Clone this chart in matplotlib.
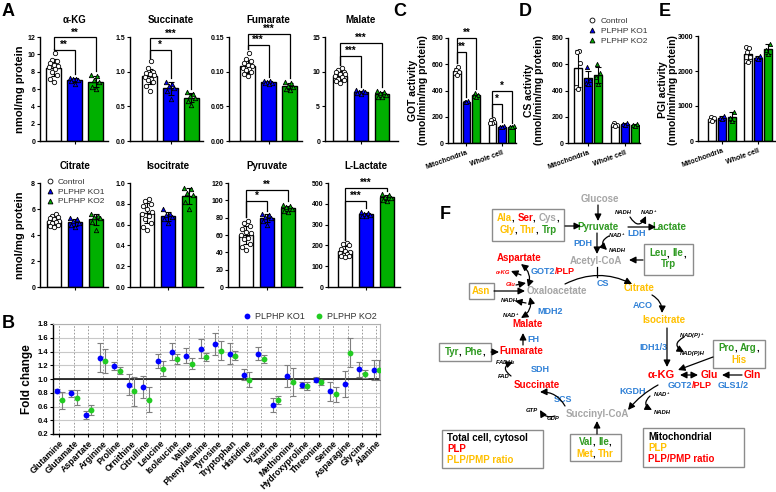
import numpy as np
import matplotlib
matplotlib.use('Agg')
import matplotlib.pyplot as plt
from matplotlib.lines import Line2D
from matplotlib.patches import Rectangle

plt.rcParams['font.family'] = ['Liberation Sans', 'DejaVu Sans']
plt.rcParams['font.weight'] = 'bold'
plt.rcParams['mathtext.fontset'] = 'custom'
plt.rcParams['mathtext.rm'] = 'Liberation Sans:bold'
plt.rcParams['mathtext.it'] = 'Liberation Sans:italic:bold'
plt.rcParams['mathtext.bf'] = 'Liberation Sans:bold'
plt.rcParams['axes.linewidth'] = 1.0

W, H = 776, 492
fig = plt.figure(figsize=(W / 100, H / 100), dpi=100)

BLUE = '#0000ff'
GREEN = '#00b000'
GROUP_COLORS = ['white', BLUE, GREEN]
GROUP_MARKERS = ['o', '^', '^']
GROUP_LABELS = ['Control', 'PLPHP KO1', 'PLPHP KO2']

# ---------------- Panel A data (nmol/mg protein) ----------------
akg_ctrl = [10.2, 9.4, 9.2, 9.0, 8.8, 8.6, 8.5, 8.3, 8.0, 7.6, 7.2, 6.8]
akg_ko1 = [7.3, 7.2, 7.1, 7.0, 6.9, 6.6]
akg_ko2 = [7.6, 7.5, 7.0, 6.8, 6.2, 6.0]
succ_ctrl = [1.15, 1.05, 1.0, 0.98, 0.96, 0.95, 0.93, 0.9, 0.88, 0.85, 0.8, 0.72]
succ_ko1 = [0.85, 0.82, 0.8, 0.77, 0.72, 0.6]
succ_ko2 = [0.7, 0.68, 0.65, 0.62, 0.58, 0.52]
fum_ctrl = [0.127, 0.118, 0.115, 0.113, 0.11, 0.108, 0.106, 0.104, 0.102, 0.1, 0.097, 0.094]
fum_ko1 = [0.087, 0.086, 0.085, 0.084, 0.083, 0.082]
fum_ko2 = [0.085, 0.084, 0.08, 0.078, 0.075, 0.073]
mal_ctrl = [10.5, 10.2, 10.0, 9.9, 9.7, 9.6, 9.4, 9.2, 9.0, 8.8, 8.6, 8.4]
mal_ko1 = [7.3, 7.2, 7.1, 7.0, 6.9, 6.8]
mal_ko2 = [7.2, 7.0, 6.9, 6.7, 6.4, 6.3]
cit_ctrl = [5.6, 5.5, 5.4, 5.3, 5.2, 5.1, 5.0, 5.0, 4.9, 4.8, 4.7, 4.6]
cit_ko1 = [5.3, 5.2, 5.1, 4.9, 4.8, 4.6]
cit_ko2 = [5.6, 5.5, 5.4, 5.3, 5.0, 4.4]
iso_ctrl = [0.85, 0.83, 0.8, 0.78, 0.75, 0.72, 0.7, 0.68, 0.65, 0.62, 0.58, 0.55]
iso_ko1 = [0.75, 0.7, 0.69, 0.67, 0.65, 0.62]
iso_ko2 = [0.95, 0.94, 0.9, 0.88, 0.82, 0.75]
pyr_ctrl = [76, 74, 70, 67, 64, 62, 60, 57, 55, 50, 46, 43]
pyr_ko1 = [84, 83, 81, 80, 76, 72]
pyr_ko2 = [95, 93, 92, 90, 88, 86]
lac_ctrl = [210, 205, 200, 185, 175, 170, 165, 160, 155, 150, 148, 145]
lac_ko1 = [360, 355, 350, 345, 342, 340]
lac_ko2 = [445, 440, 435, 430, 420, 415]

a_titles = ['α-KG', 'Succinate', 'Fumarate', 'Malate',
            'Citrate', 'Isocitrate', 'Pyruvate', 'L-Lactate']
a_ymax = [12, 1.5, 0.15, 15, 8, 1.0, 120, 500]
a_ystep = [2, 0.5, 0.05, 5, 2, 0.2, 20, 100]
a_yfmt = ['%d', '%.1f', '%.2f', '%d', '%d', '%.1f', '%d', '%d']
# significance brackets: (height to KO1, label, height to KO2, label)
a_sig = [(10.5, '**', 11.95, '**'), (1.31, '*', 1.48, '***'),
         (0.139, '***', 0.154, '***'), (12.3, '***', 14.1, '***'),
         None, None, (99, '*', 112, '**'), (413, '***', 476, '***')]

# ---------------- Panel B data (fold change) ----------------
amino_acids = ['Glutamine', 'Glutamate', 'Aspartate', 'Arginine', 'Proline',
               'Ornithine', 'Citrulline', 'Leucine', 'Isoleucine', 'Valine',
               'Phenylalanine', 'Tyrosine', 'Tryptophan', 'Histidine', 'Lysine',
               'Taurine', 'Methionine', 'Hydroxyproline', 'Threonine', 'Serine',
               'Asparagine', 'Glycine', 'Alanine']
ko1_fc = [0.83, 0.79, 0.48, 1.31, 1.19, 0.92, 0.89, 1.26, 1.40, 1.34, 1.44, 1.51,
          1.37, 1.06, 1.37, 0.62, 1.05, 0.91, 0.99, 0.82, 0.93, 1.14, 1.13]
ko1_err = [0.02, 0.05, 0.06, 0.21, 0.06, 0.15, 0.16, 0.10, 0.12, 0.11, 0.14, 0.16,
           0.15, 0.08, 0.10, 0.10, 0.16, 0.04, 0.04, 0.14, 0.19, 0.11, 0.15]
ko2_fc = [0.69, 0.73, 0.55, 1.26, 1.12, 0.82, 0.70, 1.15, 1.29, 1.22, 1.32, 1.41,
          1.34, 0.99, 1.29, 0.69, 0.96, 0.90, 0.95, 0.78, 1.38, 1.07, 1.13]
ko2_err = [0.12, 0.11, 0.07, 0.17, 0.05, 0.21, 0.18, 0.11, 0.07, 0.08, 0.06, 0.14,
           0.07, 0.11, 0.06, 0.06, 0.20, 0.06, 0.03, 0.11, 0.21, 0.06, 0.15]

# ---------------- Panels C, D, E data ----------------
fractions = ['Mitochondria', 'Whole cell']
got_ctrl = [[580, 560, 540, 530, 520], [180, 175, 160, 150, 150]]
got_ko1 = [[320, 315, 310], [130, 125, 120]]
got_ko2 = [[380, 365, 355, 350], [128, 125, 122]]
cs_ctrl = [[700, 690, 610, 430, 410], [150, 140, 135, 130]]
cs_ko1 = [[580, 480, 460, 450], [155, 148, 140]]
cs_ko2 = [[600, 530, 500, 450], [145, 135, 128]]
pgi_ctrl = [[700, 650, 600, 560], [2700, 2650, 2550, 2400, 2300, 2250]]
pgi_ko1 = [[720, 650, 620], [2420, 2380, 2350]]
pgi_ko2 = [[830, 650, 580], [2780, 2600, 2500]]


def px_axes(left, top, right, bottom):
    return fig.add_axes([left / W, 1 - bottom / H, (right - left) / W, (bottom - top) / H])


def swarm(vals, spread):
    vals = np.asarray(vals, dtype=float)
    pattern = np.array([0.0, -1.0, 1.0, -0.5, 0.5, -1.4, 1.4])
    offs = np.zeros(len(vals))
    for rank, idx in enumerate(np.argsort(vals)):
        offs[idx] = pattern[rank % len(pattern)] * spread
    return offs


def draw_group(ax, x, pts, k, width, msize=10):
    m = np.mean(pts)
    s = np.std(pts, ddof=1)
    ax.bar(x, m, width, color=GROUP_COLORS[k], edgecolor='black', linewidth=1.0, zorder=2)
    ax.errorbar(x, m, yerr=s, fmt='none', ecolor='black', elinewidth=0.8,
                capsize=2, capthick=0.8, zorder=3)
    fc = 'white' if k == 0 else GROUP_COLORS[k]
    ax.scatter(x + swarm(pts, width * 0.25), pts, s=msize, marker=GROUP_MARKERS[k],
               facecolor=fc, edgecolor='black', linewidth=0.6, zorder=4, clip_on=False)
    return max(max(pts), m + s)


def bracket(ax, x0, x1, y, y0, y1, label, fs=7):
    ax.plot([x0, x0, x1, x1], [y0, y, y, y1], color='black', lw=0.9,
            clip_on=False, zorder=5, solid_joinstyle='miter')
    ax.text((x0 + x1) / 2, y, label, ha='center', va='bottom', fontsize=fs,
            fontweight='bold', clip_on=False)


def style(ax, fs=5):
    for sp in ['top', 'right']:
        ax.spines[sp].set_visible(False)
    ax.tick_params(labelsize=fs, width=0.8, length=2.5, pad=1)


def legend3(ax, loc, anchor):
    handles = [Line2D([], [], ls='none', marker=GROUP_MARKERS[k], markersize=3.5,
                      markerfacecolor=('white' if k == 0 else GROUP_COLORS[k]),
                      markeredgecolor='black', markeredgewidth=0.6)
               for k in range(3)]
    leg = ax.legend(handles, GROUP_LABELS, loc=loc, bbox_to_anchor=anchor,
                    frameon=False, prop={'size': 6, 'weight': 'normal'},
                    handletextpad=0.5, labelspacing=0.25, borderaxespad=0,
                    borderpad=0, handlelength=1.0)
    for tx in leg.get_texts():
        tx.set_color('#333333')


# ---------------- Panel A ----------------
a_groups = [(akg_ctrl, akg_ko1, akg_ko2), (succ_ctrl, succ_ko1, succ_ko2),
            (fum_ctrl, fum_ko1, fum_ko2), (mal_ctrl, mal_ko1, mal_ko2),
            (cit_ctrl, cit_ko1, cit_ko2), (iso_ctrl, iso_ko1, iso_ko2),
            (pyr_ctrl, pyr_ko1, pyr_ko2), (lac_ctrl, lac_ko1, lac_ko2)]
# (axis left, first bar centre, axis right) in pixels
a_pos = [(40, 53.5, 108), (130, 149.5, 203), (229, 247.5, 302), (325, 340, 398),
         (40, 54, 108), (130, 147, 203), (228, 246, 302), (328, 345, 400)]
a_rows = [(37, 141), (183, 287)]
UNIT = 21.0
for i in range(8):
    left, c0, right = a_pos[i]
    top, bot = a_rows[i // 4]
    ax = px_axes(left, top, right, bot)
    tops = []
    for k in range(3):
        tops.append(draw_group(ax, k, a_groups[i][k], k, 0.67))
    ymax = a_ymax[i]
    ax.set_ylim(0, ymax)
    ax.set_xlim((left - c0) / UNIT, (right - c0) / UNIT)
    yt = np.arange(0, ymax + a_ystep[i] / 2, a_ystep[i])
    ax.set_yticks(yt)
    ax.set_yticklabels([a_yfmt[i] % v for v in yt])
    ax.set_xticks([1])
    ax.set_xticklabels([''])
    style(ax)
    cx = (c0 + UNIT - left) / (right - left)
    ax.text(cx, 1.135, a_titles[i], transform=ax.transAxes, fontsize=7,
            fontweight='bold', ha='center', va='baseline')
    sig = a_sig[i]
    if sig:
        pad = 0.035 * ymax
        bracket(ax, 0, 1, sig[0], tops[0] + pad, tops[1] + pad, sig[1])
        bracket(ax, 0, 2, sig[2], tops[0] + pad, tops[2] + pad, sig[3])
    if i == 4:
        legend3(ax, 'upper left', (0.08, 1.05))

# ---------------- Panel B ----------------
axb = px_axes(53, 324, 380, 434)
xb = np.arange(len(amino_acids))
off = 0.19
axb.errorbar(xb - off, ko1_fc, yerr=ko1_err, fmt='none', ecolor='#7f7f7f',
             elinewidth=0.8, capsize=2, capthick=0.8, zorder=3)
axb.errorbar(xb + off, ko2_fc, yerr=ko2_err, fmt='none', ecolor='#7f7f7f',
             elinewidth=0.8, capsize=2, capthick=0.8, zorder=3)
axb.plot(xb - off, ko1_fc, ls='none', marker='o', markersize=4.2, color=BLUE,
         markeredgewidth=0, zorder=4, label='PLPHP KO1')
axb.plot(xb + off, ko2_fc, ls='none', marker='o', markersize=4.2, color='#22cc22',
         markeredgewidth=0, zorder=4, label='PLPHP KO2')
axb.axhline(1.0, color='black', lw=1.1, zorder=2)
axb.set_ylim(0.2, 1.8)
axb.set_yticks(np.arange(0.2, 1.81, 0.2))
axb.set_yticklabels(['%.1f' % v for v in np.arange(0.2, 1.81, 0.2)])
axb.set_xlim((53 - 59.5) / 14.4, (380 - 59.5) / 14.4)
axb.set_xticks(xb)
axb.set_xticklabels(amino_acids, rotation=45, ha='right', va='top',
                    rotation_mode='anchor', fontsize=6.3)
axb.yaxis.grid(True, color='#c8c8c8', lw=0.8)
axb.xaxis.grid(True, color='#8c8c8c', lw=0.6, ls=(0, (2, 2)))
axb.set_axisbelow(True)
for sp in ['top', 'right']:
    axb.spines[sp].set_color('#b0b0b0')
    axb.spines[sp].set_linewidth(0.8)
axb.tick_params(axis='y', labelsize=5.5, width=0.8, length=2.5, pad=1)
axb.tick_params(axis='x', width=0.8, length=2.5, pad=1)
axb.set_ylabel('Fold change', fontsize=8.5, fontweight='bold', labelpad=3)
lb = axb.legend(loc='lower right', bbox_to_anchor=(1.0, 0.99), ncol=2, frameon=False,
                prop={'size': 6.5, 'weight': 'normal'}, handletextpad=0.4,
                columnspacing=1.0, borderaxespad=0, handlelength=1.0)
for tx in lb.get_texts():
    tx.set_color('#333333')

# ---------------- Panels C, D, E ----------------
cde = [('GOT activity', got_ctrl, got_ko1, got_ko2, (448, 38, 516, 143), 466.5, 35.5, 800, 200),
       ('CS activity', cs_ctrl, cs_ko1, cs_ko2, (568, 38, 640, 143), 588, 37, 800, 200),
       ('PGI activity', pgi_ctrl, pgi_ko1, pgi_ko2, (698, 36, 776, 141), 722, 36, 3000, 1000)]
bar_off = 0.27
bar_w = 0.22
for j, (lab, c_, k1, k2, bx, cx, unit, ymax, step) in enumerate(cde):
    ax = px_axes(*bx)
    left, top, right, bot = bx
    tops = {}
    for g in range(2):
        for k, data in enumerate([c_, k1, k2]):
            tops[(g, k)] = draw_group(ax, g + (k - 1) * bar_off, data[g], k, bar_w, msize=9)
    ax.set_ylim(0, ymax)
    ax.set_xlim((left - cx) / unit, (right - cx) / unit)
    ax.set_yticks(np.arange(0, ymax + 1, step))
    ax.set_xticks([0, 1])
    ax.set_xticklabels(fractions, rotation=20, ha='right', va='top',
                       rotation_mode='anchor', fontsize=6.3)
    style(ax)
    ax.tick_params(axis='x', pad=2)
    if j == 0:
        pad = 0.035 * ymax
        bracket(ax, -bar_off, 0, 693, tops[(0, 0)] + pad, tops[(0, 1)] + pad, '**')
        bracket(ax, -bar_off, bar_off, 800, tops[(0, 0)] + pad, tops[(0, 2)] + pad, '**')
        bracket(ax, 1 - bar_off, 1, 296, tops[(1, 0)] + pad, tops[(1, 1)] + pad, '*')
        bracket(ax, 1 - bar_off, 1 + bar_off, 396, tops[(1, 0)] + pad, tops[(1, 2)] + pad, '*')
    if j == 1:
        legend3(ax, 'upper left', (0.28, 1.2))

# ---------------- overlay: labels and panel F ----------------
ov = fig.add_axes([0, 0, 1, 1])
ov.set_xlim(0, W)
ov.set_ylim(H, 0)
ov.axis('off')
ov.patch.set_alpha(0)

for letter, (x, y) in {'A': (2, 16), 'B': (2, 328), 'C': (393, 16), 'D': (519, 16),
                       'E': (659, 16), 'F': (440, 219)}.items():
    ov.text(x, y, letter, fontsize=13, fontweight='bold', ha='left', va='baseline')

ov.text(20, 89, 'nmol/mg protein', rotation=90, ha='center', va='center', fontsize=8)
ov.text(20, 235, 'nmol/mg protein', rotation=90, ha='center', va='center', fontsize=8)
for x, lab in [(418, 'GOT activity'), (534, 'CS activity'), (668, 'PGI activity')]:
    ov.text(x, 90, lab + '\n(nmol/min/mg protein)', rotation=90, ha='center',
            va='center', fontsize=7.5, linespacing=1.1)

ORANGE = '#ffc000'
RED = '#ff0000'
FGREEN = '#2f9a22'
EBLUE = '#2f80d6'
GRAY = '#a6a6a6'
renderer = fig.canvas.get_renderer()


def seg_text(x, y, segs, size=7, ha='center', style_='normal'):
    texts = [ov.text(0, y, s, color=c, fontsize=size, fontweight='bold', ha='left',
                     va='center', fontstyle=style_) for s, c in segs]
    widths = [tx.get_window_extent(renderer).width for tx in texts]
    start = x - sum(widths) / 2 if ha == 'center' else x
    for tx, w in zip(texts, widths):
        tx.set_x(start)
        start += w


def t(x, y, s, c='black', size=7, **kw):
    ov.text(x, y, s, color=c, fontsize=size, fontweight='bold', ha=kw.pop('ha', 'center'),
            va='center', **kw)


def small(x, y, s, c='black'):
    ov.text(x, y, s, color=c, fontsize=4.2, fontweight='bold', fontstyle='italic',
            ha='center', va='center')


def box(x0, y0, x1, y1):
    ov.add_patch(Rectangle((x0, y0), x1 - x0, y1 - y0, facecolor='white',
                           edgecolor='#8c8c8c', lw=1.0, zorder=1))


def arr(p0, p1, rad=0.0, style='-|>', lw=0.9):
    ov.annotate('', xy=p1, xytext=p0,
                arrowprops=dict(arrowstyle=style + ',head_length=0.5,head_width=0.25',
                                connectionstyle='arc3,rad=%s' % rad, color='black',
                                lw=lw, shrinkA=0, shrinkB=0, mutation_scale=8))


# boxes
box(492, 209, 564, 241)
box(644, 244, 693, 275)
box(469, 283, 494, 299)
box(439, 343, 491, 361)
box(713, 340, 765, 368)
box(570, 434, 621, 461)
box(442, 430, 543, 468)
box(643, 428, 744, 467)

seg_text(528, 218, [('Ala', ORANGE), (', ', 'black'), ('Ser', RED), (', ', 'black'),
                    ('Cys', GRAY), (',', 'black')])
seg_text(528, 230, [('Gly', ORANGE), (', ', 'black'), ('Thr', ORANGE), (', ', 'black'),
                    ('Trp', FGREEN)])
seg_text(668, 253, [('Leu', FGREEN), (', ', 'black'), ('Ile', FGREEN), (',', 'black')])
t(668, 264, 'Trp', FGREEN)
t(481, 291, 'Asn', ORANGE)
seg_text(465, 352, [('Tyr', FGREEN), (', ', 'black'), ('Phe', FGREEN), (',', 'black')])
seg_text(739, 348, [('Pro', FGREEN), (', ', 'black'), ('Arg', FGREEN), (',', 'black')])
t(739, 360, 'His', ORANGE)
seg_text(595, 442, [('Val', FGREEN), (', ', 'black'), ('Ile', FGREEN), (',', 'black')])
seg_text(595, 454, [('Met', ORANGE), (', ', 'black'), ('Thr', ORANGE)])
t(447, 438, 'Total cell, cytosol', 'black', ha='left')
t(447, 449, 'PLP', RED, ha='left')
t(447, 460, 'PLP/PMP ratio', ORANGE, ha='left')
t(648, 437, 'Mitochondrial', 'black', ha='left')
t(648, 448, 'PLP', ORANGE, ha='left')
t(648, 459, 'PLP/PMP ratio', RED, ha='left')

# metabolites
t(600, 199, 'Glucose', GRAY)
t(598, 227, 'Pyruvate', FGREEN)
t(669, 227, 'Lactate', FGREEN)
t(596, 261, 'Acetyl-CoA', GRAY)
t(519, 258, 'Aspartate', RED)
t(557, 291, 'Oxaloacetate', GRAY)
t(639, 288, 'Citrate', ORANGE)
t(664, 320, 'Isocitrate', ORANGE)
t(528, 324, 'Malate', RED)
t(521, 351, 'Fumarate', RED)
t(537, 385, 'Succinate', RED)
t(597, 414, 'Succinyl-CoA', GRAY)
t(661, 375, 'α-KG', RED, size=8)
t(709, 375, 'Glu', RED, size=7.5)
t(752, 375, 'Gln', RED, size=7.5)

# enzymes
t(637, 233, 'LDH', EBLUE, size=6.5)
t(583, 243, 'PDH', EBLUE, size=6.5)
seg_text(553, 272, [('GOT2', EBLUE), ('/PLP', RED)], size=6.5)
t(603, 284, 'CS', EBLUE, size=6.5)
t(643, 306, 'ACO', EBLUE, size=6.5)
t(550, 311, 'MDH2', EBLUE, size=6.5)
t(533, 340, 'FH', EBLUE, size=6.5)
t(540, 369, 'SDH', EBLUE, size=6.5)
t(563, 399, 'SCS', EBLUE, size=6.5)
t(653, 347, 'IDH1/3', EBLUE, size=6.5)
t(633, 391, 'KGDH', EBLUE, size=6.5)
seg_text(690, 385, [('GOT2', EBLUE), ('/PLP', RED)], size=6.5)
t(733, 385, 'GLS1/2', EBLUE, size=6.5)

# cofactors
small(623, 213, 'NADH')
small(649, 213, 'NAD$^+$')
small(617, 236, 'NAD$^+$')
small(617, 251, 'NADH')
small(503, 272, 'α-KG', RED)
small(511, 285, 'Glu', RED)
small(509, 301, 'NADH')
small(511, 316, 'NAD$^+$')
small(505, 363, 'FADH$_2$')
small(504, 377, 'FAD')
small(532, 411, 'GTP')
small(553, 418, 'GDP')
small(692, 336, 'NAD(P)$^+$')
small(692, 353, 'NAD(P)H')
small(662, 395, 'NAD$^+$')
small(662, 413, 'NADH')

# arrows
arr((598, 205), (598, 221))
arr((565, 226), (581, 226))
arr((628, 227), (656, 227))
arr((630, 217), (646, 216), rad=0.9)
arr((597, 233), (597, 254))
arr((609, 236), (607, 250), rad=0.7)
arr((643, 260), (629, 260))
ov.plot([597, 597], [267, 277], color='black', lw=0.9)
arr((565, 284), (632, 284), rad=-0.25)
arr((494, 291), (525, 291))
arr((521, 264), (528, 287), rad=-0.35, style='<|-|>')
arr((521, 275), (511, 271))
arr((516, 285), (526, 283))
arr((652, 295), (662, 313), rad=-0.3)
arr((521, 318), (530, 297), rad=0.35, style='<|-|>')
arr((526, 303), (515, 301))
arr((523, 345), (523, 333))
arr((491, 352), (499, 352))
arr((511, 376), (513, 362), rad=-0.9)
arr((565, 406), (540, 392), rad=0.3)
arr((555, 416), (540, 410), rad=-0.4)
arr((597, 434), (597, 421))
arr((667, 328), (667, 367))
arr((684, 337), (684, 352), rad=0.9)
arr((713, 357), (678, 370))
arr((680, 375), (698, 375), style='<|-|>')
arr((742, 375), (722, 375))
arr((658, 385), (628, 410), rad=0.1)
arr((650, 396), (652, 410), rad=0.7)

fig.savefig('out.png', dpi=100)
